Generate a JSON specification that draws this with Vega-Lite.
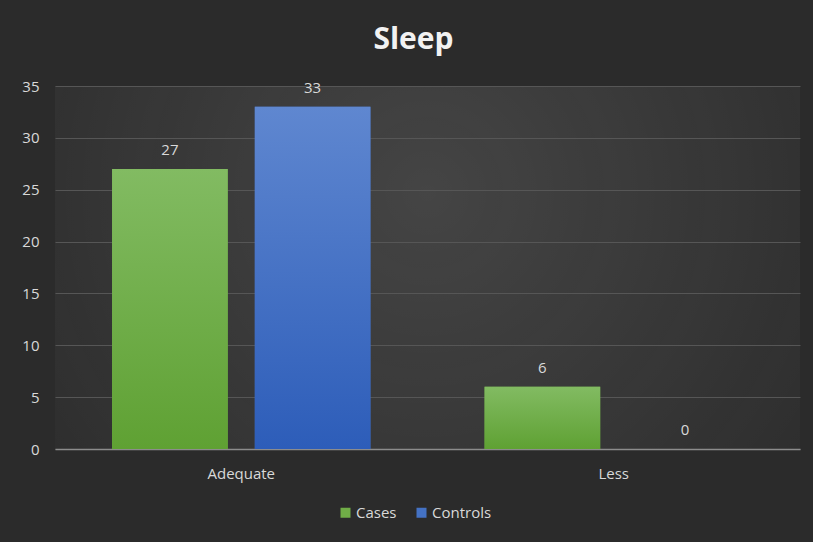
{
  "$schema": "https://vega.github.io/schema/vega-lite/v6.json",
  "width": 745,
  "height": 363,
  "autosize": {"type": "none"},
  "padding": {"left": 55, "top": 86, "right": 13, "bottom": 93},
  "background": "#2b2b2b",
  "title": {
    "text": "Sleep",
    "anchor": "middle",
    "dx": -14,
    "offset": 24,
    "font": "Open Sans",
    "fontSize": 30,
    "fontWeight": "bold",
    "color": "#f2f2f2"
  },
  "data": {
    "values": [
      {"Sleep": "Adequate", "Group": "Cases", "Count": 27},
      {"Sleep": "Adequate", "Group": "Controls", "Count": 33},
      {"Sleep": "Less", "Group": "Cases", "Count": 6},
      {"Sleep": "Less", "Group": "Controls", "Count": 0}
    ]
  },
  "encoding": {
    "x": {
      "field": "Sleep",
      "type": "nominal",
      "sort": null,
      "scale": {"paddingInner": 0, "paddingOuter": 0},
      "axis": {
        "title": null,
        "labelAngle": 0,
        "ticks": false,
        "labelPadding": 17,
        "domain": true,
        "domainColor": "#8c8c8c",
        "domainWidth": 1.5,
        "grid": false
      }
    },
    "xOffset": {
      "field": "Group",
      "type": "nominal",
      "sort": ["Cases", "Controls"],
      "scale": {"paddingInner": 0.19, "paddingOuter": 0.4}
    },
    "y": {
      "field": "Count",
      "type": "quantitative",
      "scale": {"domain": [0, 35], "nice": false},
      "axis": {
        "title": null,
        "values": [0, 5, 10, 15, 20, 25, 30, 35],
        "ticks": false,
        "domain": false,
        "labelPadding": 16,
        "grid": true,
        "gridColor": "#565656",
        "gridWidth": 1
      }
    }
  },
  "layer": [
    {
      "mark": {"type": "bar"},
      "encoding": {
        "color": {
          "field": "Group",
          "type": "nominal",
          "scale": {"domain": ["Cases", "Controls"], "range": ["#70ad47", "#4472c4"]},
          "legend": {
            "title": null,
            "orient": "none",
            "legendX": 283,
            "legendY": 419,
            "direction": "horizontal",
            "symbolType": "square",
            "symbolSize": 100,
            "symbolStrokeWidth": 0,
            "labelFontSize": 15,
            "labelOffset": 3,
            "labelColor": "#d9d9d9",
            "labelFont": "Open Sans",
            "columnPadding": 17
          }
        }
      }
    },
    {
      "mark": {"type": "bar"},
      "encoding": {
        "fill": {
          "condition": {
            "test": "datum.Group === 'Cases'",
            "value": {
              "gradient": "linear", "x1": 0, "y1": 0, "x2": 0, "y2": 1,
              "stops": [
                {"offset": 0, "color": "#82bb62"},
                {"offset": 1, "color": "#5fa133"}
              ]
            }
          },
          "value": {
            "gradient": "linear", "x1": 0, "y1": 0, "x2": 0, "y2": 1,
            "stops": [
              {"offset": 0, "color": "#5f87d0"},
              {"offset": 1, "color": "#2d5db9"}
            ]
          }
        }
      }
    },
    {
      "mark": {
        "type": "text",
        "baseline": "alphabetic",
        "dy": -14,
        "font": "Open Sans",
        "fontSize": 15,
        "color": "#d9d9d9"
      },
      "encoding": {
        "text": {"field": "Count", "type": "quantitative"}
      }
    }
  ],
  "config": {
    "view": {
      "stroke": null,
      "fill": {
        "gradient": "radial",
        "x1": 0.5, "y1": 0.4, "r1": 0,
        "x2": 0.5, "y2": 0.4, "r2": 0.7,
        "stops": [
          {"offset": 0, "color": "rgba(255,255,255,0.12)"},
          {"offset": 1, "color": "rgba(255,255,255,0)"}
        ]
      }
    },
    "axis": {
      "labelFont": "Open Sans",
      "labelFontSize": 15,
      "labelColor": "#d9d9d9"
    }
  }
}
